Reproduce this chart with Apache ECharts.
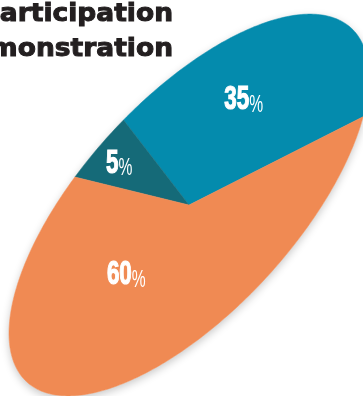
<!DOCTYPE html>
<html>
<head>
<meta charset="utf-8">
<script src="https://cdn.jsdelivr.net/npm/echarts@6/dist/echarts.min.js"></script>
<style>
html,body{margin:0;padding:0;background:#fff;}
#chart{width:363px;height:396px;}
</style>
</head>
<body>
<div id="chart"></div>
<script>
// ---- data ----
const categories = ['Yes', 'No answer', 'No'];
const values = [35, 5, 60];
const titleLines = ['Participation', 'demonstration'];

// ---- styles ----
const colors = ['#048bad', '#156a78', '#f08a53'];
const geom = { cx: 189, cy: 205, a: 240, b: 106, rot: 47.5, start: -40.4 };
const labelNudge = [[-10, -2], [-9.5, -3.5], [-30, 6.5]];

const total = values.reduce((s, v) => s + v, 0);
const cum = [];
values.reduce((s, v, i) => { cum[i] = s; return s + v; }, 0);

const DEG = Math.PI / 180;
const ca = Math.cos(geom.rot * DEG), sa = Math.sin(geom.rot * DEG);
function pt(phiDeg, r) {
  const p = phiDeg * DEG;
  const ac = geom.a * Math.cos(p), bs = geom.b * Math.sin(p);
  return [geom.cx + r * (ac * ca - bs * sa), geom.cy - r * (ac * sa + bs * ca)];
}

const chart = echarts.init(document.getElementById('chart'), null, { renderer: 'canvas' });

function renderItem(params, api) {
  const i = params.dataIndex;
  const v = api.value(0);
  const a0 = geom.start + cum[i] / total * 360;
  const span = v / total * 360;
  const pts = [[geom.cx, geom.cy]];
  const n = Math.max(4, Math.ceil(span));
  for (let k = 0; k <= n; k++) pts.push(pt(a0 + span * k / n, 1));
  const half = span / 2 * DEG;
  const rc = 2 * Math.sin(half) / (3 * half);
  const c = pt(a0 + span / 2, rc);
  const children = [];
  if (i === 0) {
    const full = [];
    for (let k = 0; k < 360; k++) full.push(pt(k, 1));
    children.push({
      type: 'polygon', shape: { points: full },
      style: { fill: '#ffffff', shadowBlur: 8, shadowColor: 'rgba(0,0,0,0.22)', shadowOffsetY: 3 }
    });
  }
  children.push({
    type: 'polygon', shape: { points: pts },
    style: { fill: colors[i], stroke: colors[i], lineWidth: 0.5 }
  });
  children.push({
    type: 'text',
    x: c[0] + labelNudge[i][0], y: c[1] + labelNudge[i][1],
    scaleX: 0.68,
    z2: 10,
    style: {
      text: '{n|' + v + '}{p|%}',
      x: 0, y: 0,
      align: 'center', verticalAlign: 'middle',
      rich: {
        n: { font: 'bold 33px "Liberation Sans", Arial, sans-serif', fill: '#ffffff', stroke: '#ffffff', lineWidth: 1.2, verticalAlign: 'bottom', lineHeight: 34 },
        p: { font: '23px "Liberation Sans", Arial, sans-serif', fill: '#ffffff', verticalAlign: 'bottom', lineHeight: 30 }
      }
    }
  });
  return { type: 'group', children: children };
}

chart.setOption({
  backgroundColor: '#ffffff',
  animation: false,
  graphic: titleLines.map((t, k) => ({
    type: 'text',
    x: 173, y: 14.5 + k * 34.5,
    scaleX: 1.06,
    z: 100,
    style: {
      text: t, x: 0, y: 0,
      align: 'right', verticalAlign: 'middle',
      font: 'bold 25px "DejaVu Sans", sans-serif',
      fill: '#231f20', stroke: '#231f20', lineWidth: 1
    }
  })),
  series: [{
    type: 'custom',
    coordinateSystem: 'none',
    renderItem: renderItem,
    data: values.map((v, i) => ({ name: categories[i], value: [v] }))
  }]
});
</script>
</body>
</html>
